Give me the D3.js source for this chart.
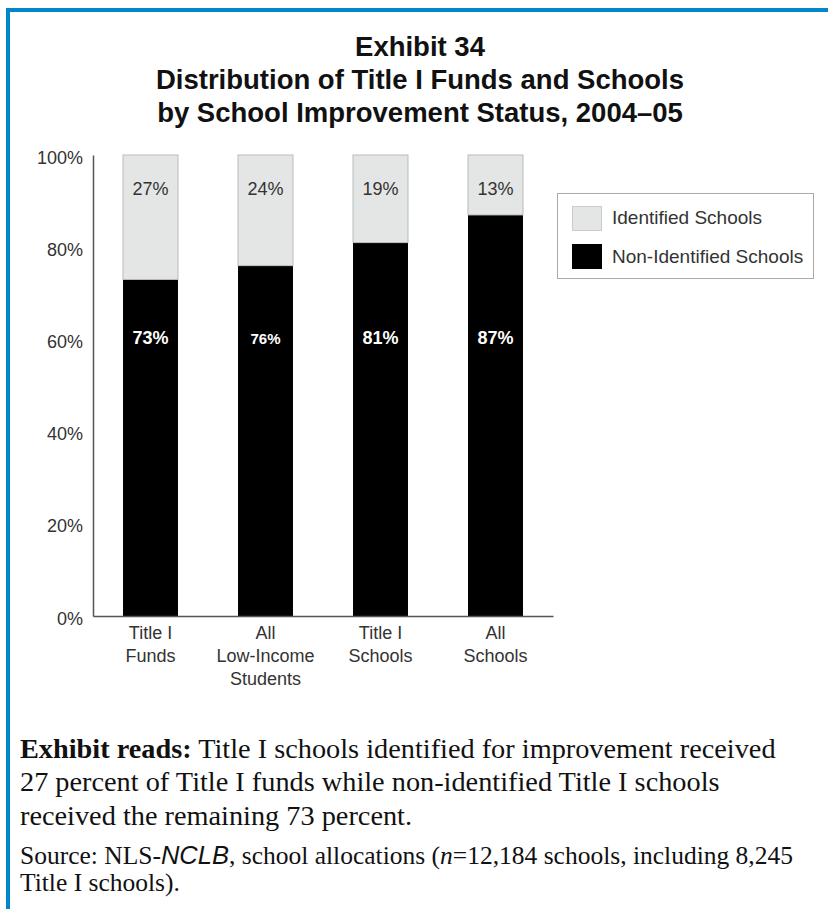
<!DOCTYPE html>
<html><head><meta charset="utf-8">
<script src="https://cdn.jsdelivr.net/npm/d3@7"></script>
<style>
html,body{margin:0;padding:0;background:#fff;}
svg{display:block;}
</style></head>
<body>
<script>
const categories = [["Title I","Funds"],["All","Low-Income","Students"],["Title I","Schools"],["All","Schools"]];
const catKeys = ["Title I Funds","All Low-Income Students","Title I Schools","All Schools"];
const nonIdentified = [73, 76, 81, 87];
const identified = [27, 24, 19, 13];
const yTicks = [0, 20, 40, 60, 80, 100];
const seriesNames = ["Identified Schools","Non-Identified Schools"];
const titleLines = ["Exhibit 34","Distribution of Title I Funds and Schools","by School Improvement Status, 2004\u201305"];

const W = 828, H = 909;
const svg = d3.select("body").append("svg").attr("width", W).attr("height", H);

// frame
svg.append("rect").attr("x",6).attr("y",8).attr("width",W-6).attr("height",4).attr("fill","#0086C9");
svg.append("rect").attr("x",6).attr("y",8).attr("width",4).attr("height",H-8).attr("fill","#0086C9");

// title
svg.append("g").selectAll("text").data(titleLines).join("text")
  .attr("x", 420).attr("y", (d,i)=>56 + i*33)
  .attr("text-anchor","middle")
  .attr("font-family","Liberation Sans, Arial, sans-serif")
  .attr("font-weight","bold").attr("font-size",27.5).attr("fill","#111")
  .text(d=>d);

const x = d3.scaleBand().domain(catKeys).range([93,553]).paddingInner(0.522).paddingOuter(0.261);
const y = d3.scaleLinear().domain([0,100]).range([616,155]);

const fontAx = "Liberation Sans, Arial, sans-serif";

// bars
const g = svg.append("g");
g.selectAll("rect.non").data(catKeys).join("rect").attr("class","non")
  .attr("x", d=>x(d)).attr("width", x.bandwidth())
  .attr("y", (d,i)=>y(nonIdentified[i])).attr("height", (d,i)=>y(0)-y(nonIdentified[i]))
  .attr("fill","#000");
g.selectAll("rect.idn").data(catKeys).join("rect").attr("class","idn")
  .attr("x", d=>x(d)).attr("width", x.bandwidth())
  .attr("y", (d,i)=>y(nonIdentified[i]+identified[i])).attr("height", (d,i)=>y(nonIdentified[i])-y(nonIdentified[i]+identified[i]))
  .attr("fill","#E3E6E5").attr("stroke","#B8BBBA").attr("stroke-width",1);

// value labels
g.selectAll("text.top").data(catKeys).join("text").attr("class","top")
  .attr("x", d=>x(d)+x.bandwidth()/2).attr("y", 195)
  .attr("text-anchor","middle").attr("font-family",fontAx).attr("font-size",18).attr("fill","#333")
  .text((d,i)=>identified[i]+"%");
g.selectAll("text.bot").data(catKeys).join("text").attr("class","bot")
  .attr("x", d=>x(d)+x.bandwidth()/2).attr("y", 344)
  .attr("text-anchor","middle").attr("font-family",fontAx).attr("font-weight","bold")
  .attr("font-size",(d,i)=> i===1 ? 15 : 18).attr("fill","#fff")
  .text((d,i)=>nonIdentified[i]+"%");

// axes
const yAxis = d3.axisLeft(y).tickValues(yTicks).tickSize(0).tickPadding(10).tickFormat(d=>d+"%");
const ya = svg.append("g").attr("transform","translate(93,0)").call(yAxis);
ya.select(".domain").attr("stroke","#555").attr("stroke-width",1.5);
ya.selectAll("text").attr("font-family",fontAx).attr("font-size",18).attr("fill","#333").attr("dy","0.45em");

const xAxis = d3.axisBottom(x).tickSize(0).tickFormat("");
const xa = svg.append("g").attr("transform","translate(0,616)").call(xAxis);
xa.select(".domain").attr("stroke","#555").attr("stroke-width",1.5);

// category labels
const cl = svg.append("g").selectAll("text").data(catKeys).join("text")
  .attr("text-anchor","middle").attr("font-family",fontAx).attr("font-size",18).attr("fill","#333");
cl.each(function(d,i){
  const t = d3.select(this);
  categories[i].forEach((line,j)=>{
    t.append("tspan").attr("x", x(d)+x.bandwidth()/2).attr("y", 639 + j*23).text(line);
  });
});

// legend
const lg = svg.append("g");
lg.append("rect").attr("x",557.5).attr("y",193.5).attr("width",256).attr("height",85)
  .attr("fill","#fff").attr("stroke","#aaa").attr("stroke-width",1);
const legColors = ["#E3E6E5","#000"];
seriesNames.forEach((n,i)=>{
  lg.append("rect").attr("x",572.5).attr("y",206.5+i*38).attr("width",29).attr("height",24)
    .attr("fill",legColors[i]).attr("stroke", i===0?"#ccc":"#000");
  lg.append("text").attr("x",612).attr("y",224+i*39).attr("font-family",fontAx)
    .attr("font-size",19).attr("fill","#333").text(n);
});

// notes
const serif = "Liberation Serif, Times New Roman, serif";
const n1 = svg.append("text").attr("font-family",serif).attr("font-size",28.3).attr("fill","#111");
n1.append("tspan").attr("x",20).attr("y",758).attr("font-weight","bold").text("Exhibit reads:");
n1.append("tspan").text(" Title I schools identified for improvement received");
svg.append("text").attr("x",20).attr("y",791).attr("font-family",serif).attr("font-size",28.3).attr("fill","#111")
  .text("27 percent of Title I funds while non-identified Title I schools");
svg.append("text").attr("x",20).attr("y",825).attr("font-family",serif).attr("font-size",28.3).attr("fill","#111")
  .text("received the remaining 73 percent.");
const s1 = svg.append("text").attr("x",20).attr("y",864).attr("font-family",serif).attr("font-size",25.5).attr("fill","#111");
s1.append("tspan").text("Source: NLS-");
s1.append("tspan").attr("font-style","italic").attr("font-family","Liberation Sans, Arial, sans-serif").text("NCLB");
s1.append("tspan").text(", school allocations (");
s1.append("tspan").attr("font-style","italic").text("n");
s1.append("tspan").text("=12,184 schools, including 8,245");
svg.append("text").attr("x",20).attr("y",891).attr("font-family",serif).attr("font-size",25.5).attr("fill","#111")
  .text("Title I schools).");
</script>
</body></html>
